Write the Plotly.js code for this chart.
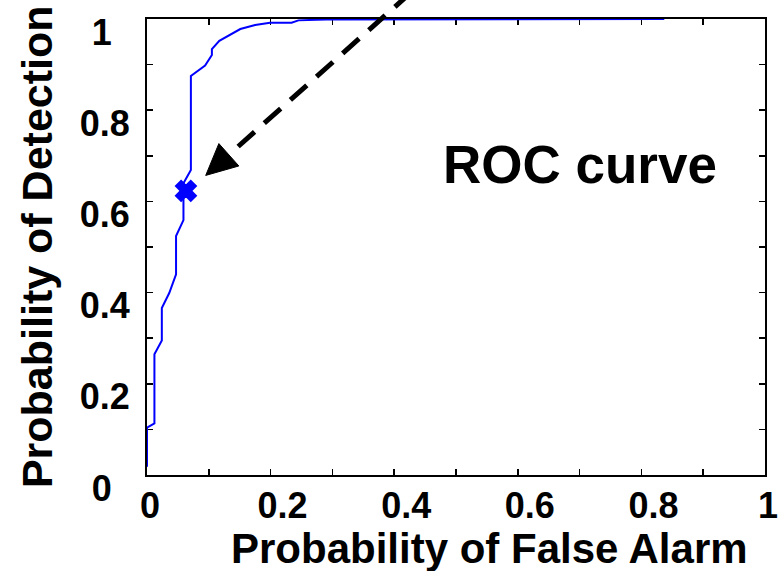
<!DOCTYPE html>
<html>
<head>
<meta charset="utf-8">
<script src="https://cdn.plot.ly/plotly-3.0.1.min.js"></script>
<style>
  html, body { margin: 0; padding: 0; background: #fff; }
  #chart { width: 779px; height: 571px; }
</style>
</head>
<body>
<div id="chart"></div>
<script>
// ROC curve: false alarm rate vs detection rate
const falseAlarm = [0, 0, 0.012, 0.012, 0.024, 0.024, 0.036, 0.047, 0.047, 0.059, 0.059, 0.071, 0.071, 0.094, 0.105, 0.105, 0.117, 0.151, 0.175, 0.199, 0.234, 0.245, 0.29, 0.837];
const detection  = [0.018, 0.104, 0.113, 0.265, 0.295, 0.366, 0.399, 0.44, 0.524, 0.559, 0.640, 0.669, 0.875, 0.898, 0.921, 0.934, 0.952, 0.978, 0.987, 0.992, 0.992, 0.997, 0.999, 1.0];

// chosen operating point on the curve
const opFalseAlarm = [0.063];
const opDetection  = [0.623];

// dashed pointer: tail (off the top) and tip, in axis units
const pointerTail = [0.47, 1.11];
const pointerTip  = [0.095, 0.657];

// tick labels (padded with fixed-width spaces so they sit centred)
const xTickVals = [0, 0.2, 0.4, 0.6, 0.8, 1];
const xTickText = ['0\u2002', '0.2', '0.4', '0.6', '0.8', '1\u2002'];
const yTickVals = [0, 0.2, 0.4, 0.6, 0.8, 1];
const yTickText = ['0\u2002', '0.2', '0.4', '0.6', '0.8', '1\u2002'];

const FONT = 'Liberation Sans, Arial, Helvetica, sans-serif';
const W = 779, H = 571;
const M = { l: 147, r: 14, t: 19, b: 96 };
const PW = W - M.l - M.r, PH = H - M.t - M.b;

// arrowhead built in pixel space, then expressed in paper units
function toPx(p) { return [M.l + p[0] * PW, M.t + (1 - p[1]) * PH]; }
function toPaper(q) { return [(q[0] - M.l) / PW, 1 - (q[1] - M.t) / PH]; }
const tipPx = toPx(pointerTip), tailPx = toPx(pointerTail);
const dx = tipPx[0] - tailPx[0], dy = tipPx[1] - tailPx[1];
const len = Math.hypot(dx, dy), ux = dx / len, uy = dy / len;
const headLen = 31, headHalf = 15;
const basePx = [tipPx[0] - ux * headLen, tipPx[1] - uy * headLen];
const c1 = toPaper([basePx[0] - uy * headHalf, basePx[1] + ux * headHalf]);
const c2 = toPaper([basePx[0] + uy * headHalf, basePx[1] - ux * headHalf]);
const tipP = toPaper(tipPx);
const shaftEnd = toPaper([tipPx[0] - ux * (headLen - 4), tipPx[1] - uy * (headLen - 4)]);

const traces = [
  {
    x: falseAlarm, y: detection, type: 'scatter', mode: 'lines',
    line: { color: '#0000ff', width: 2 }, hoverinfo: 'skip'
  },
  {
    x: opFalseAlarm, y: opDetection, type: 'scatter', mode: 'markers',
    marker: { symbol: 'x', size: 17, color: '#0000ff', line: { color: '#0000ff', width: 2.5 } },
    cliponaxis: false, hoverinfo: 'skip'
  }
];

const axisCommon = {
  range: [0, 1], showgrid: false, zeroline: false,
  showline: true, linecolor: '#000', linewidth: 2, mirror: 'ticks',
  ticks: 'inside', ticklen: 6, tickwidth: 1.5, tickcolor: '#000',
  minor: { dtick: 0.1, tick0: 0, ticks: 'inside', ticklen: 6, tickwidth: 1.5, tickcolor: '#000' },
  tickmode: 'array', layer: 'below traces', fixedrange: true,
  ticklabeloverflow: 'allow',
  tickfont: { family: FONT, size: 36, color: '#000', weight: 700 }
};

const layout = {
  width: W, height: H,
  margin: M,
  paper_bgcolor: '#fff', plot_bgcolor: '#fff',
  showlegend: false,
  xaxis: Object.assign({}, axisCommon, {
    tickvals: xTickVals, ticktext: xTickText,
    ticklabelshift: 12, ticklabelstandoff: -2
  }),
  yaxis: Object.assign({}, axisCommon, {
    tickvals: yTickVals, ticktext: yTickText,
    ticklabelshift: 13, ticklabelstandoff: 8
  }),
  shapes: [
    {
      type: 'line', xref: 'paper', yref: 'paper',
      x0: pointerTail[0], y0: pointerTail[1], x1: shaftEnd[0], y1: shaftEnd[1],
      line: { color: '#000', width: 5, dash: '22px,13px' }
    },
    {
      type: 'path', xref: 'paper', yref: 'paper',
      path: `M ${tipP[0]} ${tipP[1]} L ${c1[0]} ${c1[1]} L ${c2[0]} ${c2[1]} Z`,
      fillcolor: '#000', line: { color: '#000', width: 1 }
    }
  ],
  annotations: [
    {
      text: 'Probability of False Alarm', xref: 'paper', yref: 'paper',
      x: 0.555, y: -0.162, xanchor: 'center', yanchor: 'middle', showarrow: false,
      font: { family: FONT, size: 42, color: '#000', weight: 700 }
    },
    {
      text: 'Probability of Detection', xref: 'paper', yref: 'paper',
      x: -0.178, y: 0.502, xanchor: 'center', yanchor: 'middle', textangle: -90, showarrow: false,
      font: { family: FONT, size: 43, color: '#000', weight: 700 }
    },
    {
      text: 'ROC curve', xref: 'paper', yref: 'paper',
      x: 0.7006, y: 0.68, xanchor: 'center', yanchor: 'middle', showarrow: false,
      font: { family: FONT, size: 53, color: '#000', weight: 700 }
    }
  ]
};

Plotly.newPlot('chart', traces, layout, { staticPlot: true, displayModeBar: false });
</script>
</body>
</html>
